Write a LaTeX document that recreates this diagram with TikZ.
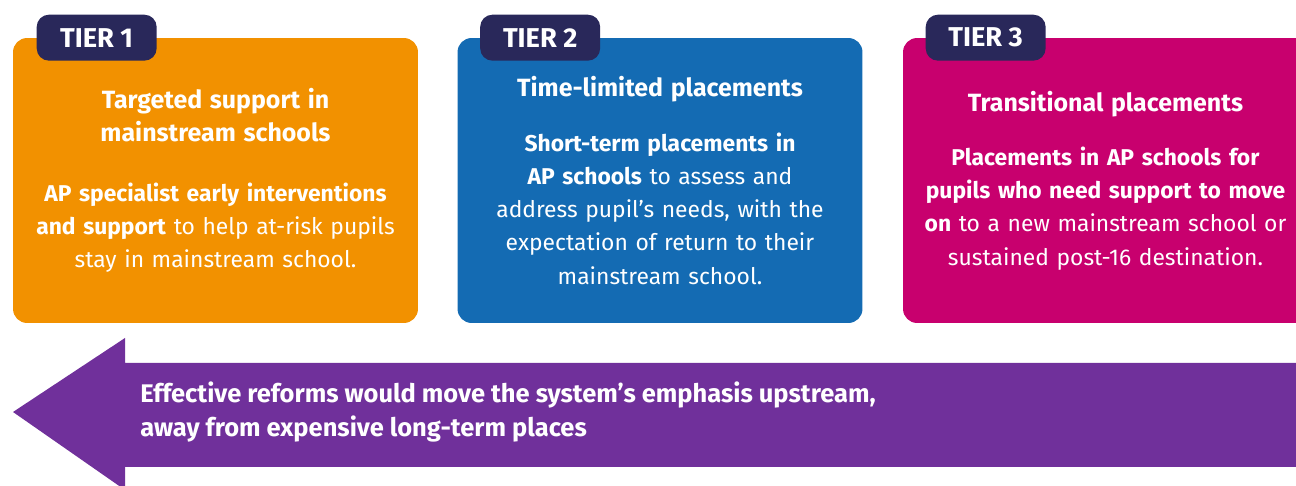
\documentclass[tikz,border=0pt]{standalone}
\usepackage{fontspec}
\setmainfont{Fira Sans}
\usepackage{graphicx}
\usetikzlibrary{positioning}
\definecolor{tierorange}{HTML}{F29100}
\definecolor{tierblue}{HTML}{146BB3}
\definecolor{tiermagenta}{HTML}{C8006E}
\definecolor{tiernavy}{HTML}{29285A}
\definecolor{reformpurple}{HTML}{70309B}
\newcommand{\tiertitle}{\fontsize{14.2}{18.9}\selectfont\bfseries}

\begin{document}
\begin{tikzpicture}[x=0.02cm,y=-0.02cm,
  tierbox/.style={rounded corners=8pt, minimum width=8.1cm, minimum height=5.7cm,
    text=white, align=center, text width=7.8cm, inner sep=0pt,
    font=\fontsize{13}{18.9}\selectfont},
  tiertab/.style={fill=tiernavy, rounded corners=7pt, minimum width=2.4cm,
    minimum height=0.92cm, text=white, inner sep=0pt,
    font=\fontsize{15.5}{16}\selectfont\bfseries}]
\clip (0,0) rectangle (1296,486);

% the three tiers
\node[tierbox, fill=tierorange] (box1) at (215.5,180.5)
  {{\tiertitle Targeted support in\\ mainstream schools}\\[15pt]
   \textbf{AP specialist early interventions}\\
   \textbf{and support} to help at-risk pupils\\
   stay in mainstream school.};
\node[tierbox, fill=tierblue] (box2) at (660,180.5)
  {{\tiertitle Time-limited placements}\\[12pt]
   \textbf{Short-term placements in}\\
   \textbf{AP schools} to assess and\\
   address pupil's needs, with the\\
   expectation of return to their\\
   mainstream school.};
\node[tierbox, fill=tiermagenta] (box3) at (1105.5,180.5)
  {{\tiertitle Transitional placements}\\[12pt]
   \textbf{Placements in AP schools for}\\
   \textbf{pupils who need support to move}\\
   \textbf{on} to a new mainstream school or\\
   sustained post-16 destination.};

\node[tiertab] (tab1) at ([xshift=1.68cm]box1.north west) {TIER 1};
\node[tiertab] (tab2) at ([xshift=1.66cm]box2.north west) {TIER 2};
\node[tiertab] (tab3) at ([xshift=1.66cm]box3.north west) {TIER 3};

% arrow pointing upstream
\fill[reformpurple] (13,412) -- (125,338) -- (125,363) -- (1310,363)
  -- (1310,467) -- (125,467) -- (125,490) -- cycle;
\node[anchor=west, text=white, align=left, inner sep=0pt,
  font=\fontsize{14.5}{19.5}\selectfont\bfseries] (reform) at (140,412)
  {Effective reforms would move the system’s emphasis upstream,\\
   away from expensive long-term places};
\end{tikzpicture}
\end{document}
